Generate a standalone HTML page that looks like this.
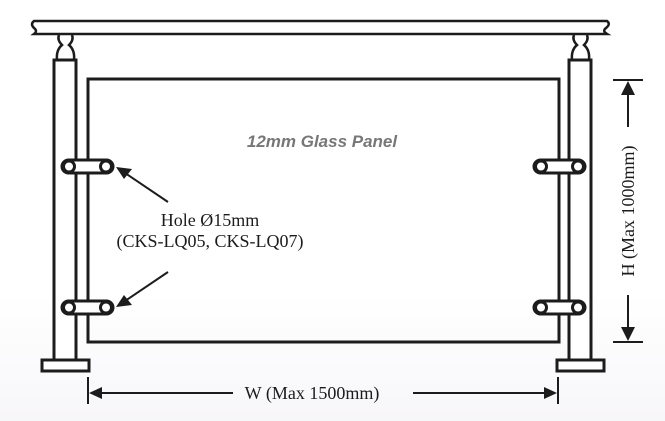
<!DOCTYPE html>
<html><head><meta charset="utf-8"><style>
html,body{margin:0;padding:0;background:#fff;}
svg{display:block;}
</style></head><body>
<svg width="665" height="421" viewBox="0 0 665 421" xmlns="http://www.w3.org/2000/svg">
<defs>
<linearGradient id="bg" x1="0" y1="0" x2="0" y2="1">
<stop offset="0" stop-color="#fff"/><stop offset="0.7" stop-color="#fff"/><stop offset="1" stop-color="#f7f6f9"/>
</linearGradient>
</defs>
<rect width="665" height="421" fill="url(#bg)"/>
<g fill="none" stroke="#1c1c1c" stroke-width="3">
<path d="M34 21 L607 21 Q611 24 606 28 Q602 31 607 34 L34 34 Q38 31 34 28 Q30 24 34 21 Z" stroke-width="2.5" fill="#fff"/>
<path d="M59 35 Q57 40 62 45 Q56 50 57 60 M72 35 Q74 40 69 45 Q75 50 74 60" stroke-width="2.5"/>
<path d="M574 35 Q572 40 577 45 Q571 50 572 60 M587 35 Q589 40 584 45 Q590 50 589 60" stroke-width="2.5"/>
<rect x="54" y="60" width="22" height="300" fill="#fff"/>
<rect x="569" y="60" width="22" height="300" fill="#fff"/>
<rect x="42" y="360" width="47" height="11" fill="#fff"/>
<rect x="557" y="360" width="47" height="11" fill="#fff"/>
<rect x="88" y="79" width="471" height="263"/>
<g fill="#fff">
<rect x="62" y="160" width="51" height="13" rx="6.5"/>
<rect x="62" y="301" width="51" height="13" rx="6.5"/>
<rect x="534" y="160" width="51" height="13" rx="6.5"/>
<rect x="534" y="301" width="51" height="13" rx="6.5"/>
<circle cx="69" cy="166.5" r="5.5"/><circle cx="106" cy="166.5" r="5.5"/>
<circle cx="69" cy="307.5" r="5.5"/><circle cx="106" cy="307.5" r="5.5"/>
<circle cx="541" cy="166.5" r="5.5"/><circle cx="578" cy="166.5" r="5.5"/>
<circle cx="541" cy="307.5" r="5.5"/><circle cx="578" cy="307.5" r="5.5"/>
</g>
</g>
<g stroke="#1c1c1c" stroke-width="2">
<line x1="88" y1="377" x2="88" y2="404"/>
<line x1="558" y1="377" x2="558" y2="404"/>
<line x1="95" y1="393" x2="233" y2="393"/>
<line x1="413" y1="393" x2="550" y2="393"/>
<line x1="613" y1="80" x2="643" y2="80"/>
<line x1="613" y1="342" x2="643" y2="342"/>
<line x1="628" y1="90" x2="628" y2="127"/>
<line x1="628" y1="295" x2="628" y2="332"/>
<line x1="168" y1="202" x2="125" y2="173"/>
<line x1="168" y1="272" x2="125" y2="301"/>
</g>
<g fill="#1c1c1c">
<polygon points="89,393 102,387 102,399"/>
<polygon points="557,393 544,387 544,399"/>
<polygon points="628,81 621,95 635,95"/>
<polygon points="628,341 621,327 635,327"/>
<polygon points="116,167 132,169 124,179"/>
<polygon points="116,307 124,295 132,305"/>
</g>
<g font-family="Liberation Serif, serif" font-size="18" fill="#1c1c1c" text-anchor="middle">
<text x="210" y="226">Hole Ø15mm</text>
<text x="210" y="247">(CKS-LQ05, CKS-LQ07)</text>
<text x="312" y="399">W (Max 1500mm)</text>
<text transform="translate(634,211) rotate(-90)">H (Max 1000mm)</text>
</g>
<text x="322" y="147" text-anchor="middle" font-family="Liberation Sans, sans-serif" font-size="17" font-weight="bold" font-style="italic" fill="#777">12mm Glass Panel</text>
</svg>
</body></html>
